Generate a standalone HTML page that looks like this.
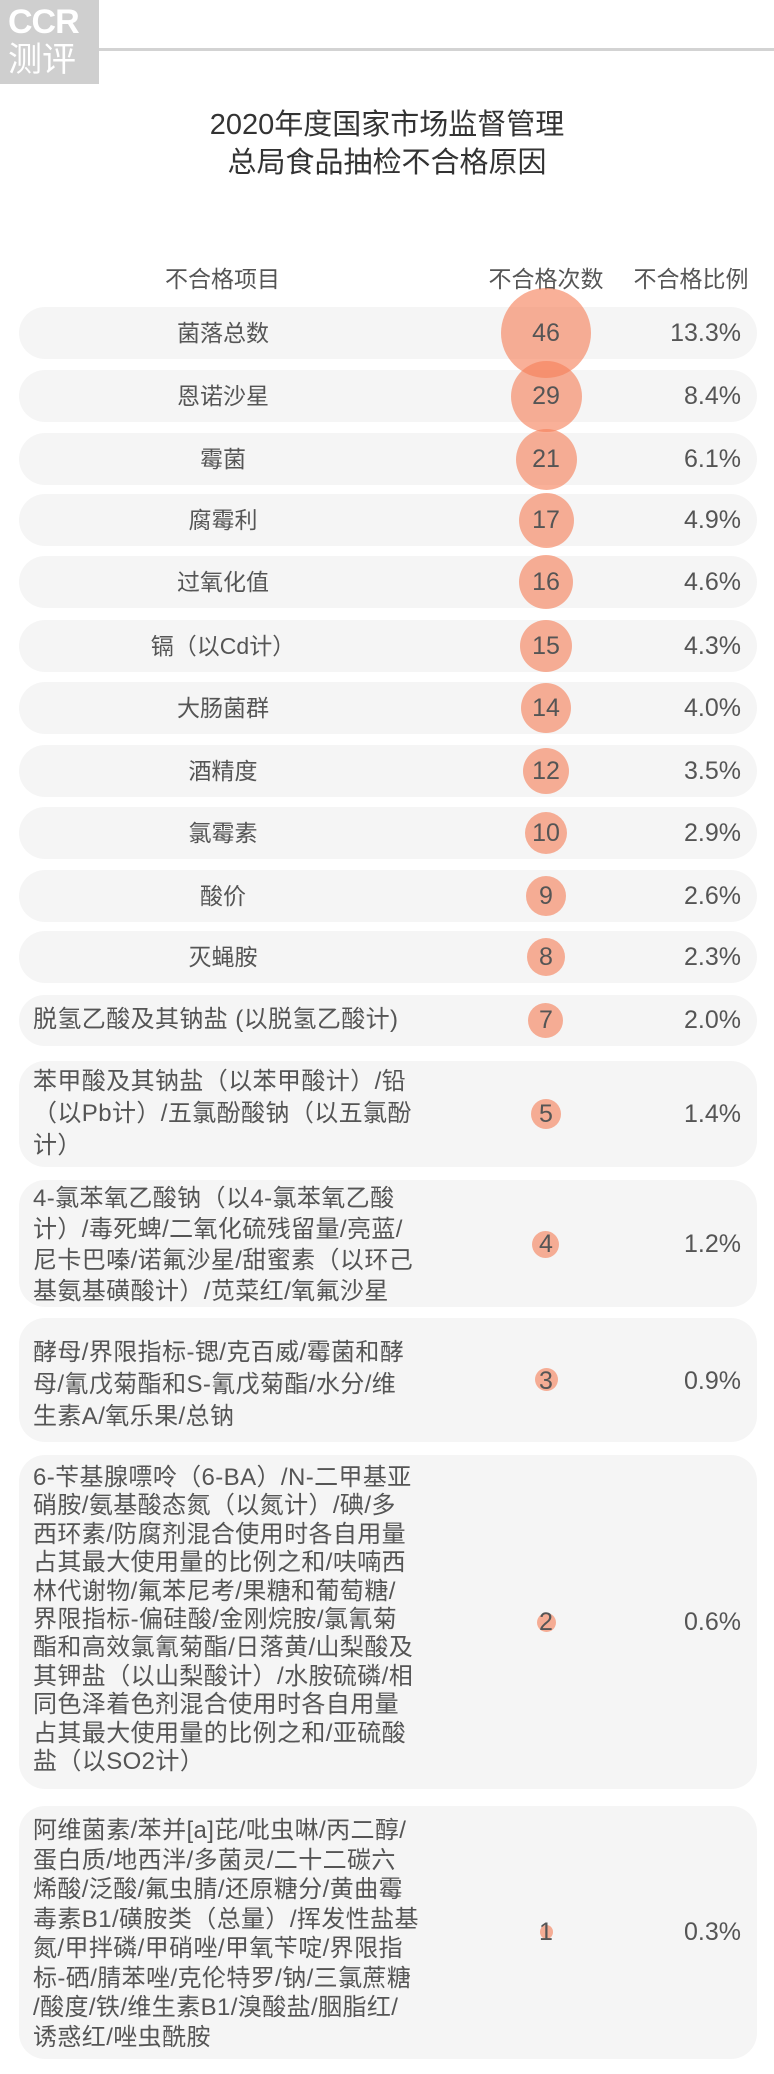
<!DOCTYPE html>
<html><head><meta charset="utf-8"><style>
body{margin:0;width:774px;height:2074px;background:#fff;position:relative;overflow:hidden;font-family:"Liberation Sans","Noto Sans CJK SC",sans-serif;color:#555}
.a{position:absolute}
.box{position:absolute;left:19px;width:738px;background:#f5f5f5;border-radius:26px}
.c{position:absolute;border-radius:50%;background:rgba(246,128,88,0.62)}
.n{position:absolute;left:506px;width:80px;text-align:center;font-size:25px;color:#555;line-height:30px}
.p{position:absolute;right:33px;font-size:25px;color:#555;line-height:30px;text-align:right}
.l1{position:absolute;left:33px;width:380px;text-align:center;font-size:23px;line-height:30px}
.lm{position:absolute;left:33px;font-size:24px;line-height:29.5px;white-space:nowrap;letter-spacing:0.4px}
</style></head><body>
<div class="a" style="left:0;top:0;width:99px;height:84px;background:#cfcfcf"></div>
<div class="a" style="left:8px;top:4px;color:#fff;font-size:34px;font-weight:bold;line-height:36px;letter-spacing:-1px">CCR</div>
<div class="a" style="left:8px;top:40px;color:#fff;font-size:34px;line-height:40px">测评</div>
<div class="a" style="left:99px;top:48px;width:675px;height:3px;background:#d3d3d3"></div>
<div class="a" style="left:0;width:774px;top:106px;text-align:center;font-size:29px;line-height:38px;color:#333">2020年度国家市场监督管理<br>总局食品抽检不合格原因</div>
<div class="a" style="left:100px;top:260px;width:245px;text-align:center;font-size:23px">不合格项目</div>
<div class="a" style="left:476px;top:260px;width:140px;text-align:center;font-size:23px">不合格次数</div>
<div class="a" style="left:626px;top:260px;width:130px;text-align:center;font-size:23px">不合格比例</div>

<div class="box" style="top:307px;height:52px"></div>
<div class="box" style="top:370px;height:52px"></div>
<div class="box" style="top:433px;height:52px"></div>
<div class="box" style="top:494px;height:52px"></div>
<div class="box" style="top:556px;height:52px"></div>
<div class="box" style="top:620px;height:52px"></div>
<div class="box" style="top:682px;height:52px"></div>
<div class="box" style="top:745px;height:52px"></div>
<div class="box" style="top:807px;height:52px"></div>
<div class="box" style="top:870px;height:52px"></div>
<div class="box" style="top:931px;height:52px"></div>
<div class="box" style="top:995px;height:51px"></div>
<div class="box" style="top:1061px;height:106px"></div>
<div class="box" style="top:1180px;height:127px"></div>
<div class="box" style="top:1318px;height:124px"></div>
<div class="box" style="top:1455px;height:334px"></div>
<div class="box" style="top:1806px;height:253px"></div>

<div class="c" style="left:501px;top:288px;width:90px;height:90px"></div>
<div class="c" style="left:511px;top:361px;width:71px;height:71px"></div>
<div class="c" style="left:516px;top:429px;width:61px;height:61px"></div>
<div class="c" style="left:519px;top:493px;width:55px;height:55px"></div>
<div class="c" style="left:519px;top:555px;width:54px;height:54px"></div>
<div class="c" style="left:520px;top:620px;width:52px;height:52px"></div>
<div class="c" style="left:521px;top:683px;width:50px;height:50px"></div>
<div class="c" style="left:523px;top:748px;width:46px;height:46px"></div>
<div class="c" style="left:525px;top:812px;width:42px;height:42px"></div>
<div class="c" style="left:526px;top:876px;width:40px;height:40px"></div>
<div class="c" style="left:527px;top:938px;width:38px;height:38px"></div>
<div class="c" style="left:528px;top:1003px;width:35px;height:35px"></div>
<div class="c" style="left:531px;top:1099px;width:30px;height:30px"></div>
<div class="c" style="left:532px;top:1231px;width:27px;height:27px"></div>
<div class="c" style="left:535px;top:1368px;width:23px;height:23px"></div>
<div class="c" style="left:537px;top:1613px;width:19px;height:19px"></div>
<div class="c" style="left:540px;top:1925px;width:13px;height:14px"></div>

<div class="l1" style="top:318px">菌落总数</div><div class="n" style="top:318px">46</div><div class="p" style="top:318px">13.3%</div>
<div class="l1" style="top:381px">恩诺沙星</div><div class="n" style="top:381px">29</div><div class="p" style="top:381px">8.4%</div>
<div class="l1" style="top:444px">霉菌</div><div class="n" style="top:444px">21</div><div class="p" style="top:444px">6.1%</div>
<div class="l1" style="top:505px">腐霉利</div><div class="n" style="top:505px">17</div><div class="p" style="top:505px">4.9%</div>
<div class="l1" style="top:567px">过氧化值</div><div class="n" style="top:567px">16</div><div class="p" style="top:567px">4.6%</div>
<div class="l1" style="top:631px">镉（以Cd计）</div><div class="n" style="top:631px">15</div><div class="p" style="top:631px">4.3%</div>
<div class="l1" style="top:693px">大肠菌群</div><div class="n" style="top:693px">14</div><div class="p" style="top:693px">4.0%</div>
<div class="l1" style="top:756px">酒精度</div><div class="n" style="top:756px">12</div><div class="p" style="top:756px">3.5%</div>
<div class="l1" style="top:818px">氯霉素</div><div class="n" style="top:818px">10</div><div class="p" style="top:818px">2.9%</div>
<div class="l1" style="top:881px">酸价</div><div class="n" style="top:881px">9</div><div class="p" style="top:881px">2.6%</div>
<div class="l1" style="top:942px">灭蝇胺</div><div class="n" style="top:942px">8</div><div class="p" style="top:942px">2.3%</div>
<div class="lm" style="top:1005px">脱氢乙酸及其钠盐 (以脱氢乙酸计)</div><div class="n" style="top:1005px">7</div><div class="p" style="top:1005px">2.0%</div>
<div class="lm" style="top:1066px;line-height:32px">苯甲酸及其钠盐（以苯甲酸计）/铅<br>（以Pb计）/五氯酚酸钠（以五氯酚<br>计）</div><div class="n" style="top:1099px">5</div><div class="p" style="top:1099px">1.4%</div>
<div class="lm" style="top:1183px;line-height:31px">4-氯苯氧乙酸钠（以4-氯苯氧乙酸<br>计）/毒死蜱/二氧化硫残留量/亮蓝/<br>尼卡巴嗪/诺氟沙星/甜蜜素（以环己<br>基氨基磺酸计）/苋菜红/氧氟沙星</div><div class="n" style="top:1229px">4</div><div class="p" style="top:1229px">1.2%</div>
<div class="lm" style="top:1337px;line-height:32px">酵母/界限指标-锶/克百威/霉菌和酵<br>母/氰戊菊酯和S-氰戊菊酯/水分/维<br>生素A/氧乐果/总钠</div><div class="n" style="top:1366px">3</div><div class="p" style="top:1366px">0.9%</div>
<div class="lm" style="top:1464px;line-height:28.4px">6-苄基腺嘌呤（6-BA）/N-二甲基亚<br>硝胺/氨基酸态氮（以氮计）/碘/多<br>西环素/防腐剂混合使用时各自用量<br>占其最大使用量的比例之和/呋喃西<br>林代谢物/氟苯尼考/果糖和葡萄糖/<br>界限指标-偏硅酸/金刚烷胺/氯氰菊<br>酯和高效氯氰菊酯/日落黄/山梨酸及<br>其钾盐（以山梨酸计）/水胺硫磷/相<br>同色泽着色剂混合使用时各自用量<br>占其最大使用量的比例之和/亚硫酸<br>盐（以SO2计）</div><div class="n" style="top:1607px">2</div><div class="p" style="top:1607px">0.6%</div>
<div class="lm" style="top:1816px;line-height:29.5px">阿维菌素/苯并[a]芘/吡虫啉/丙二醇/<br>蛋白质/地西泮/多菌灵/二十二碳六<br>烯酸/泛酸/氟虫腈/还原糖分/黄曲霉<br>毒素B1/磺胺类（总量）/挥发性盐基<br>氮/甲拌磷/甲硝唑/甲氧苄啶/界限指<br>标-硒/腈苯唑/克伦特罗/钠/三氯蔗糖<br>/酸度/铁/维生素B1/溴酸盐/胭脂红/<br>诱惑红/唑虫酰胺</div><div class="n" style="top:1917px">1</div><div class="p" style="top:1917px">0.3%</div>
</body></html>
